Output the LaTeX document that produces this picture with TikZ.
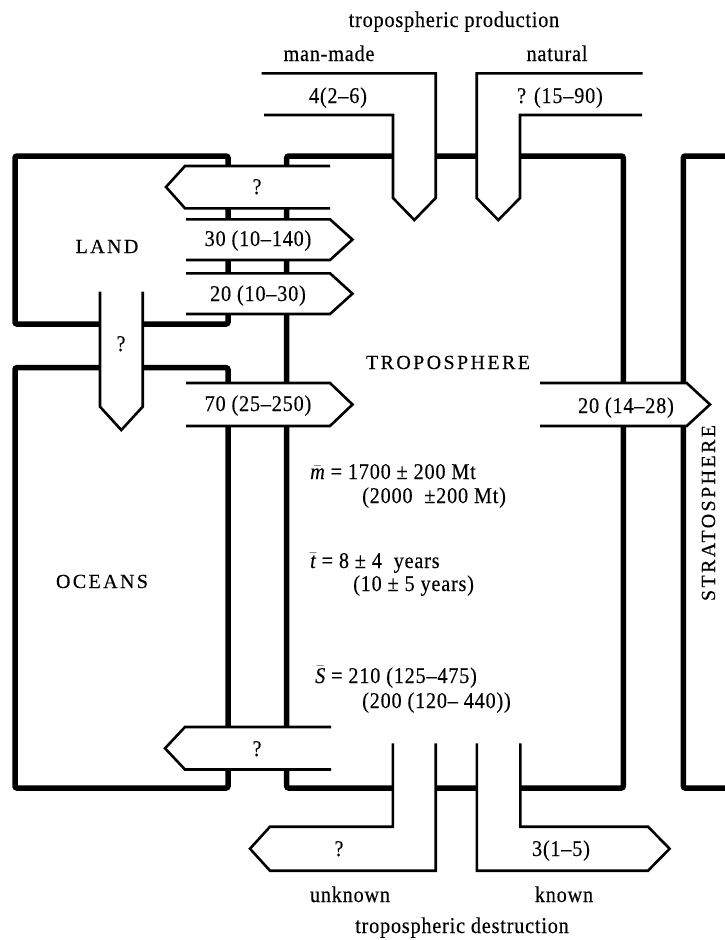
\documentclass[tikz,border=0pt]{standalone}
\usepackage{fontspec}
\setmainfont{Liberation Serif}[LetterSpace=3.5, FakeStretch=0.9, FakeBold=0.3]
\newfontfamily\capsfont{Liberation Serif}[LetterSpace=12, FakeBold=0.3]
\begin{document}
\begin{tikzpicture}[x=1pt,y=-1pt,
  boxline/.style={line width=5.5pt, rounded corners=2pt},
  flow/.style={line width=2.6pt, fill=white, line join=miter},
  txt/.style={inner sep=0pt, anchor=base, font=\fontsize{22.5}{26}\selectfont},
  captxt/.style={inner sep=0pt, anchor=base, font=\fontsize{20}{24}\selectfont\capsfont},
  ltxt/.style={inner sep=0pt, anchor=base west, font=\fontsize{22.5}{26}\selectfont}]
\useasboundingbox[fill=white] (0,0) rectangle (725,940);

% reservoirs (thick boxes)
\draw[boxline] (15,156) rectangle (228,324);
\draw[boxline] (15,367.7) rectangle (228,788);
\draw[boxline] (286.7,156) rectangle (623.3,788);
\draw[boxline] (735,156) -- (683.3,156) -- (683.3,788) -- (735,788);

% production arrows (top)
\draw[flow] (264,115) -- (393,115) -- (393,198) -- (414.3,220) -- (435.7,198) -- (435.7,73.3) -- (261.7,73.3);
\draw[flow] (642,115) -- (520,115) -- (520,198) -- (498.3,220) -- (476.7,198) -- (476.7,73.3) -- (642.6,73.3);

% exchange arrows (left)
\draw[flow] (330,166) -- (185,166) -- (166,187) -- (185,208.3) -- (330,208.3);
\draw[flow] (186,219.3) -- (330,219.3) -- (352.5,239.6) -- (330,260) -- (186,260);
\draw[flow] (186,273.3) -- (330,273.3) -- (352.5,293.7) -- (330,314) -- (186,314);
\draw[flow] (186,383) -- (330,383) -- (352.5,404.5) -- (330,426) -- (186,426);
\draw[flow] (331,727) -- (185,727) -- (165,748.3) -- (185,769.5) -- (331,769.5);
% land -> oceans
\draw[flow] (100,291.7) -- (100,406.7) -- (121.3,430) -- (142.7,406.7) -- (142.7,291.7);
% troposphere -> stratosphere
\draw[flow] (540,383) -- (686.7,383) -- (710,404.5) -- (686.7,426) -- (540,426);

% destruction arrows (bottom)
\draw[flow] (392.9,743.3) -- (392.9,826.7) -- (270,826.7) -- (250,848.7) -- (270,870.7) -- (435.7,870.7) -- (435.7,743.3);
\draw[flow] (520.4,743.3) -- (520.4,826.7) -- (648,826.7) -- (669.6,848.7) -- (648,870.7) -- (476.8,870.7) -- (476.8,743.3);

% labels
\node[txt] (tprod) at (454,27) {tropospheric production};
\node[txt] (manmade) at (329,61) {man-made};
\node[txt] (natural) at (557,61) {natural};
\node[txt] (vman) at (338,103) {4(2–6)};
\node[txt] (vnat) at (560,103) {? (15–90)};

\node[captxt] (land) at (107,253) {LAND};
\node[captxt] (oceans) at (102,588) {OCEANS};
\node[captxt] (tropo) at (448,369) {TROPOSPHERE};
\node[captxt, rotate=90] (strato) at (715,513) {STRATOSPHERE};

\node[txt] (q1) at (257,194) {?};
\node[txt] (v30) at (258,246) {30 (10–140)};
\node[txt] (v20) at (258,301) {20 (10–30)};
\node[txt] (v70) at (258,411) {70 (25–250)};
\node[txt] (q2) at (257,756) {?};
\node[txt] (qlo) at (121,351) {?};
\node[txt] (vstr) at (626,413) {20 (14–28)};

\node[ltxt] (m1) at (310,479) {$\bar{\hbox{\itshape m}}$ = 1700 ±\ 200 Mt};
\node[ltxt] (m2) at (362,503) {(2000 \ ±200 Mt)};
\node[ltxt] (t1) at (310,568) {$\bar{\hbox{\itshape t}}$ = 8 ± 4\ \ years};
\node[ltxt] (t2) at (353,591) {(10 ± 5 years)};
\node[ltxt] (s1) at (315,683) {$\bar{\hbox{\itshape S}}$ = 210 (125–475)};
\node[ltxt] (s2) at (362,708) {(200 (120– 440))};

\node[txt] (qun) at (339,856) {?};
\node[txt] (vkn) at (561,856) {3(1–5)};
\node[txt] (unknown) at (350,902) {unknown};
\node[txt] (known) at (564,902) {known};
\node[txt] (tdest) at (462,933) {tropospheric destruction};
\end{tikzpicture}
\end{document}
